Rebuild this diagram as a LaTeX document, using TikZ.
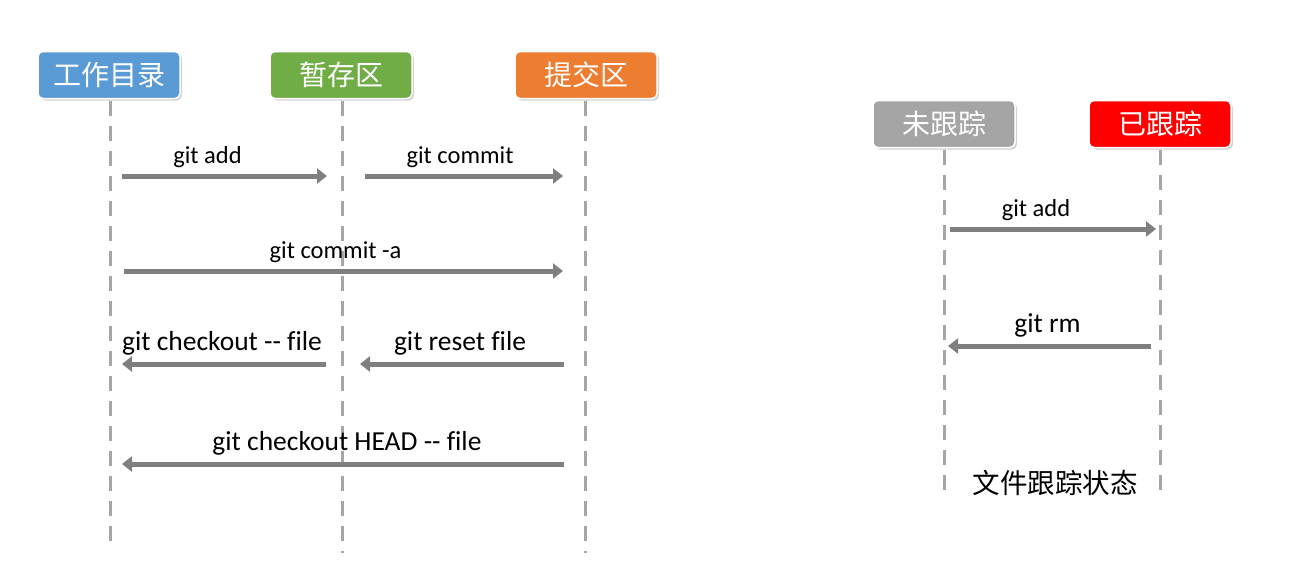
\documentclass[tikz,border=0pt]{standalone}
\usepackage{fontspec}
\setmainfont{Carlito}[Ligatures=CommonOff]
\newfontfamily\cjk{Noto Sans CJK SC}
\usetikzlibrary{arrows.meta, positioning, shadows}
\definecolor{wdblue}{HTML}{5B9BD5}
\definecolor{stagegreen}{HTML}{70AD47}
\definecolor{repoorange}{HTML}{ED7D31}
\definecolor{untrgray}{HTML}{A5A5A5}
\definecolor{trred}{HTML}{FF0000}
\definecolor{flowgray}{HTML}{7F7F7F}
\definecolor{lifegray}{HTML}{A6A6A6}
\tikzset{
  areabox/.style={draw=white, line width=1.5pt, rounded corners=5pt, minimum width=142pt, minimum height=47pt,
    text=white, font=\cjk\fontsize{28}{28}\selectfont, inner sep=0pt,
    drop shadow={shadow xshift=2pt, shadow yshift=-2pt, opacity=0.35}},
  lifeline/.style={lifegray, line width=3pt, dash pattern=on 15pt off 10pt},
  flow/.style={flowgray, line width=5pt, -{Triangle[length=10pt,width=15pt]}},
  cmd/.style={text=black, font=\fontsize{24.5}{24.5}\selectfont, above=2pt},
  cmdbig/.style={text=black, font=\fontsize{27.5}{27.5}\selectfont, above=3pt}
}
\begin{document}
\begin{tikzpicture}[x=1pt, y=-1pt]
  \useasboundingbox (0,0) rectangle (1301,587);

  % Left: areas
  \node[areabox, fill=wdblue] (wd) at (109, 75) {工作目录};
  \node[areabox, fill=stagegreen] (stage) at (341, 75) {暂存区};
  \node[areabox, fill=repoorange] (repo) at (586, 75) {提交区};

  \coordinate (wdend) at (110, 548);
  \coordinate (stageend) at (342, 553);
  \coordinate (repoend) at (585, 553);
  \draw[lifeline] (wd.south) ++(1,2) -- (wdend);
  \draw[lifeline] (stage.south) ++(1,2) -- (stageend);
  \draw[lifeline] (repo.south) ++(-1,2) -- (repoend);

  % commands
  \coordinate (add1) at (122, 176);   \coordinate (add2) at (327, 176);
  \coordinate (com1) at (365, 176);   \coordinate (com2) at (563, 176);
  \coordinate (cma1) at (124, 271);   \coordinate (cma2) at (563, 271);
  \coordinate (cko1) at (326, 364);   \coordinate (cko2) at (122, 364);
  \coordinate (rst1) at (564, 364);   \coordinate (rst2) at (360, 364);
  \coordinate (ckh1) at (564, 464);   \coordinate (ckh2) at (122, 464);

  \draw[flow] (add1) -- node[cmd, xshift=-17pt] {git add} (add2);
  \draw[flow] (com1) -- node[cmd, xshift=-4pt] {git commit} (com2);
  \draw[flow] (cma1) -- node[cmd, xshift=-8pt] {git commit -a} (cma2);
  \draw[flow] (cko1) -- node[cmdbig, xshift=-2pt] {git checkout -{}- file} (cko2);
  \draw[flow] (rst1) -- node[cmdbig, xshift=-2pt] {git reset file} (rst2);
  \draw[flow] (ckh1) -- node[cmdbig, xshift=4pt] {git checkout HEAD -{}- file} (ckh2);

  % Right: tracking state
  \node[areabox, fill=untrgray] (untr) at (944, 124) {未跟踪};
  \node[areabox, fill=trred] (tr) at (1160, 124) {已跟踪};

  \coordinate (untrend) at (944, 498);
  \coordinate (trend) at (1160, 498);
  \draw[lifeline] (untr.south) ++(0,2) -- (untrend);
  \draw[lifeline] (tr.south) ++(0,2) -- (trend);

  \coordinate (tadd1) at (950, 229);  \coordinate (tadd2) at (1156, 229);
  \coordinate (trm1) at (1151, 346);  \coordinate (trm2) at (948, 346);
  \draw[flow] (tadd1) -- node[cmd, xshift=-17pt] {git add} (tadd2);
  \draw[flow] (trm1) -- node[cmdbig, xshift=-2pt] {git rm} (trm2);

  \node[font=\cjk\fontsize{27.5}{27.5}\selectfont] (caption) at (1055, 483) {文件跟踪状态};
\end{tikzpicture}
\end{document}
